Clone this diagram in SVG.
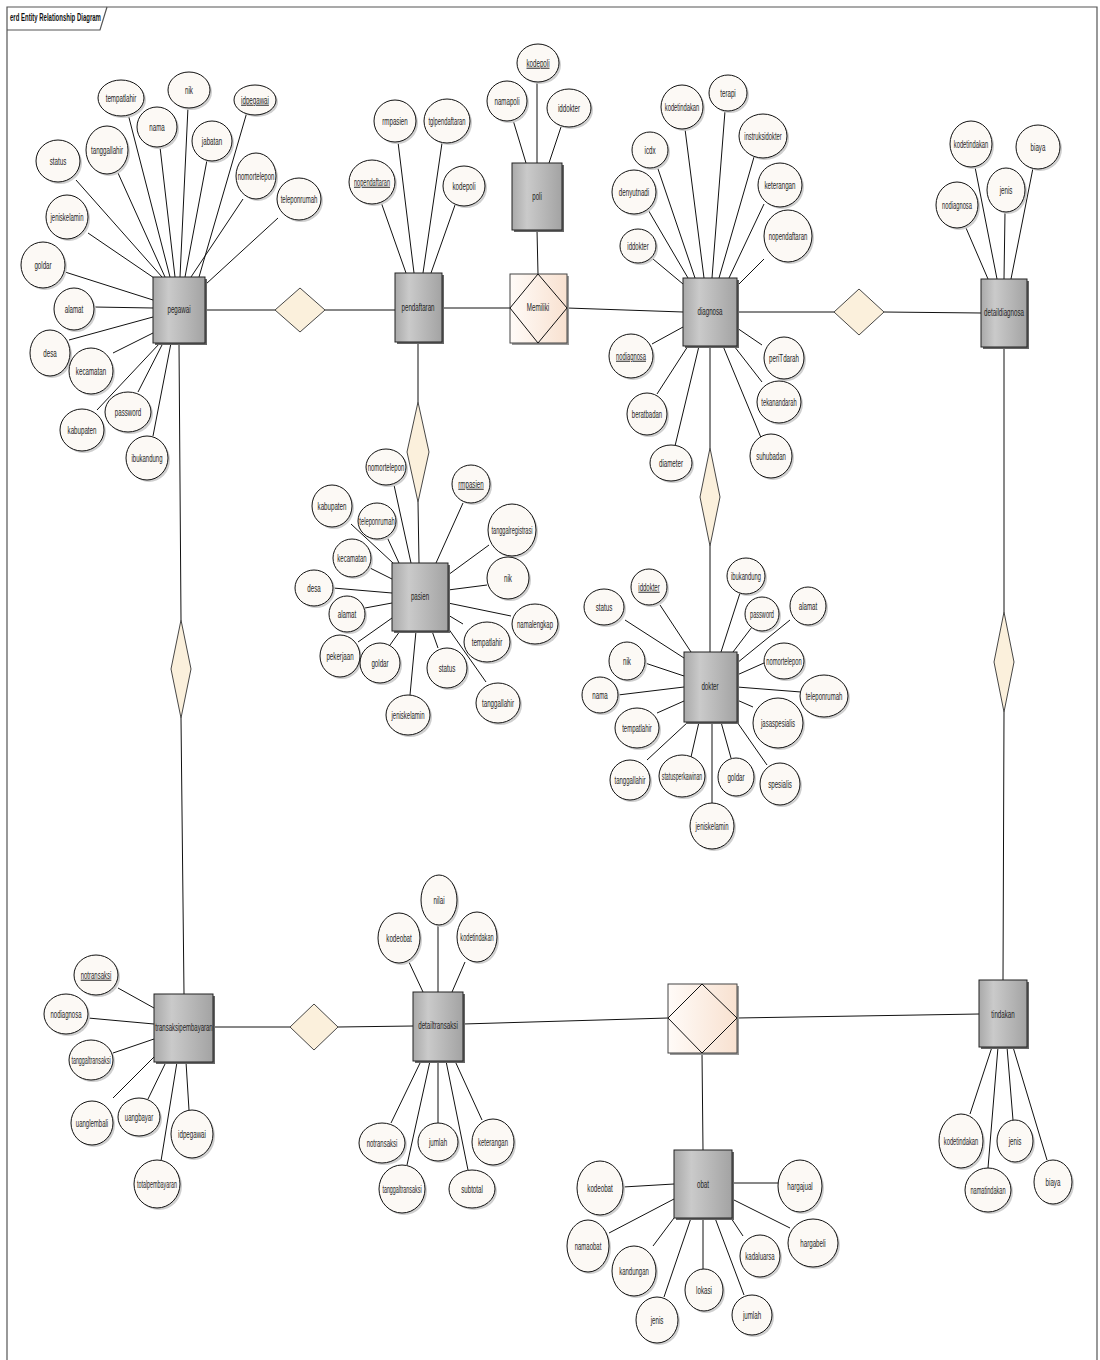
<svg xmlns="http://www.w3.org/2000/svg" width="1100" height="1360" viewBox="0 0 1100 1360">
<style>
.frame{fill:none;stroke:#555;stroke-width:1.2}
.ent rect.b{fill:url(#eg);stroke:#222;stroke-width:1}
.ent rect.s{fill:#666}
.attr ellipse.e{fill:#fcf9f5;stroke:#111;stroke-width:1}
.attr ellipse.s{fill:#cfcfcf}
.rel polygon{fill:#fbf0dc;stroke:#333;stroke-width:0.9}
.relbox rect.b{fill:url(#rg);stroke:#444;stroke-width:1}
.relbox rect.s{fill:#999}
.relbox polygon{fill:none;stroke:#111;stroke-width:1}
#connectors line{stroke:#111;stroke-width:1}
text{font-family:"Liberation Sans",Arial,sans-serif;font-size:10px;fill:#222;text-anchor:middle}
text.u{text-decoration:underline}
text.title{font-weight:bold;text-anchor:start;fill:#111}
</style>
<defs>
<linearGradient id="eg" x1="0" y1="0" x2="1" y2="0">
<stop offset="0" stop-color="#a9a9a9"/><stop offset="0.3" stop-color="#cacaca"/><stop offset="1" stop-color="#a3a3a3"/>
</linearGradient>
<linearGradient id="rg" x1="0" y1="0" x2="1" y2="0">
<stop offset="0" stop-color="#fffbf8"/><stop offset="1" stop-color="#f8e1d0"/>
</linearGradient>
</defs>
<rect width="1100" height="1360" fill="#fff"/>
<g id="frame">
<path class="frame" d="M7,1360 V7 H1097 V1360"/>
<path class="frame" d="M7,30 H100 L107,7"/>
<text class="title" transform="translate(10,21) scale(0.6,1)">erd Entity Relationship Diagram</text>
</g>
<g id="connectors">
<line x1="205" y1="310" x2="275" y2="310"/><line x1="325" y1="310" x2="395" y2="310"/>
<line x1="442" y1="308" x2="510" y2="308"/>
<line x1="567" y1="308" x2="683" y2="312"/>
<line x1="537" y1="230" x2="538" y2="274"/>
<line x1="737" y1="312" x2="834" y2="312"/><line x1="884" y1="312" x2="981" y2="313"/>
<line x1="418" y1="342" x2="418" y2="402"/><line x1="418" y1="502" x2="419" y2="563"/>
<line x1="710" y1="346" x2="710" y2="448"/><line x1="710" y1="546" x2="710" y2="652"/>
<line x1="179" y1="343" x2="181" y2="620"/><line x1="181" y1="718" x2="184" y2="994"/>
<line x1="1004" y1="347" x2="1004" y2="612"/><line x1="1004" y1="712" x2="1003" y2="980"/>
<line x1="213" y1="1027" x2="290" y2="1027"/><line x1="338" y1="1027" x2="413" y2="1026"/>
<line x1="463" y1="1024" x2="668" y2="1018"/>
<line x1="979" y1="1014" x2="737" y2="1018"/>
<line x1="702" y1="1053" x2="703" y2="1150"/>
<!-- pegawai -->
<line x1="126" y1="106" x2="170" y2="277"/><line x1="188" y1="107" x2="180" y2="277"/><line x1="247" y1="112" x2="199" y2="277"/>
<line x1="160" y1="147" x2="175" y2="277"/><line x1="207" y1="160" x2="185" y2="277"/><line x1="118" y1="173" x2="165" y2="277"/>
<line x1="76" y1="180" x2="162" y2="277"/><line x1="243" y1="199" x2="191" y2="277"/><line x1="278" y1="218" x2="206" y2="284"/>
<line x1="88" y1="233" x2="157" y2="280"/><line x1="65" y1="272" x2="153" y2="300"/><line x1="94" y1="307" x2="153" y2="308"/>
<line x1="69" y1="340" x2="153" y2="317"/><line x1="113" y1="353" x2="155" y2="332"/><line x1="97" y1="410" x2="160" y2="343"/>
<line x1="138" y1="392" x2="163" y2="343"/><line x1="153" y1="436" x2="171" y2="343"/>
<!-- pendaftaran -->
<line x1="398" y1="142" x2="414" y2="273"/><line x1="442" y1="143" x2="423" y2="273"/><line x1="381" y1="202" x2="406" y2="273"/><line x1="455" y1="205" x2="431" y2="273"/>
<!-- poli -->
<line x1="537" y1="82" x2="537" y2="163"/><line x1="513" y1="120" x2="526" y2="163"/><line x1="561" y1="127" x2="549" y2="163"/>
<!-- diagnosa -->
<line x1="725" y1="111" x2="712" y2="278"/><line x1="685" y1="129" x2="704" y2="278"/><line x1="754" y1="157" x2="719" y2="278"/>
<line x1="657" y1="166" x2="695" y2="278"/><line x1="647" y1="208" x2="688" y2="278"/><line x1="764" y1="204" x2="729" y2="278"/>
<line x1="653" y1="259" x2="683" y2="284"/><line x1="764" y1="259" x2="737" y2="286"/><line x1="652" y1="344" x2="683" y2="327"/>
<line x1="762" y1="345" x2="737" y2="328"/><line x1="657" y1="394" x2="688" y2="346"/><line x1="762" y1="382" x2="734" y2="346"/>
<line x1="675" y1="446" x2="699" y2="346"/><line x1="762" y1="440" x2="723" y2="346"/>
<!-- detaildiagnosa -->
<line x1="975" y1="167" x2="997" y2="279"/><line x1="1033" y1="168" x2="1011" y2="279"/><line x1="1005" y1="212" x2="1004" y2="279"/><line x1="966" y1="228" x2="988" y2="279"/>
<!-- pasien -->
<line x1="394" y1="485" x2="411" y2="563"/><line x1="463" y1="503" x2="436" y2="563"/><line x1="351" y1="524" x2="393" y2="563"/>
<line x1="387" y1="537" x2="399" y2="563"/><line x1="489" y1="545" x2="448" y2="575"/><line x1="368" y1="567" x2="392" y2="579"/>
<line x1="487" y1="585" x2="448" y2="590"/><line x1="333" y1="588" x2="392" y2="593"/><line x1="365" y1="608" x2="392" y2="603"/>
<line x1="511" y1="616" x2="448" y2="603"/><line x1="463" y1="624" x2="448" y2="615"/><line x1="358" y1="642" x2="392" y2="618"/>
<line x1="390" y1="645" x2="400" y2="631"/><line x1="438" y1="648" x2="432" y2="631"/><line x1="486" y1="682" x2="448" y2="628"/>
<line x1="410" y1="695" x2="416" y2="631"/>
<!-- dokter -->
<line x1="660" y1="605" x2="691" y2="652"/><line x1="740" y1="593" x2="721" y2="652"/><line x1="625" y1="620" x2="684" y2="658"/>
<line x1="752" y1="627" x2="733" y2="652"/><line x1="790" y1="620" x2="737" y2="663"/><line x1="645" y1="663" x2="684" y2="676"/>
<line x1="764" y1="663" x2="737" y2="675"/><line x1="618" y1="695" x2="684" y2="687"/><line x1="801" y1="692" x2="737" y2="687"/>
<line x1="657" y1="713" x2="684" y2="701"/><line x1="753" y1="707" x2="737" y2="700"/><line x1="647" y1="760" x2="688" y2="722"/>
<line x1="691" y1="757" x2="699" y2="722"/><line x1="731" y1="758" x2="721" y2="722"/><line x1="767" y1="765" x2="737" y2="722"/>
<line x1="712" y1="803" x2="712" y2="722"/>
<!-- transaksipembayaran -->
<line x1="118" y1="988" x2="154" y2="1008"/><line x1="88" y1="1018" x2="154" y2="1024"/><line x1="113" y1="1053" x2="154" y2="1039"/>
<line x1="113" y1="1098" x2="154" y2="1057"/><line x1="148" y1="1099" x2="166" y2="1062"/><line x1="189" y1="1110" x2="186" y2="1062"/>
<line x1="161" y1="1161" x2="177" y2="1062"/>
<!-- detailtransaksi -->
<line x1="438" y1="925" x2="438" y2="992"/><line x1="408" y1="960" x2="423" y2="992"/><line x1="465" y1="962" x2="452" y2="992"/>
<line x1="391" y1="1123" x2="421" y2="1061"/><line x1="438" y1="1123" x2="438" y2="1061"/><line x1="482" y1="1120" x2="455" y2="1061"/>
<line x1="407" y1="1165" x2="430" y2="1061"/><line x1="468" y1="1170" x2="446" y2="1061"/>
<!-- obat -->
<line x1="623" y1="1187" x2="674" y2="1184"/><line x1="778" y1="1183" x2="732" y2="1183"/><line x1="609" y1="1233" x2="674" y2="1199"/>
<line x1="790" y1="1228" x2="732" y2="1199"/><line x1="653" y1="1246" x2="674" y2="1218"/><line x1="743" y1="1236" x2="731" y2="1218"/>
<line x1="703" y1="1269" x2="703" y2="1218"/><line x1="664" y1="1297" x2="691" y2="1218"/><line x1="744" y1="1295" x2="715" y2="1218"/>
<!-- tindakan -->
<line x1="970" y1="1114" x2="992" y2="1047"/><line x1="1013" y1="1120" x2="1007" y2="1047"/><line x1="988" y1="1168" x2="998" y2="1047"/><line x1="1047" y1="1160" x2="1013" y2="1047"/>
</g>
<g id="relationships">
<g id="r-pegawai-pendaftaran" class="rel"><polygon points="275,310 300,288 325,310 300,332"/></g>
<g id="r-diagnosa-detaildiagnosa" class="rel"><polygon points="834,312 859,289 884,312 859,335"/></g>
<g id="r-pendaftaran-pasien" class="rel"><polygon points="418,402 429,452 418,502 407,452"/></g>
<g id="r-diagnosa-dokter" class="rel"><polygon points="710,448 720,497 710,546 700,497"/></g>
<g id="r-pegawai-transaksi" class="rel"><polygon points="181,620 191,669 181,718 171,669"/></g>
<g id="r-detaildiagnosa-tindakan" class="rel"><polygon points="1004,612 1014,662 1004,712 994,662"/></g>
<g id="r-transaksi-detail" class="rel"><polygon points="290,1027 314,1004 338,1027 314,1050"/></g>
<g id="r-memiliki" class="relbox"><rect class="s" x="512" y="276" width="57" height="69"/><rect class="b" x="510" y="274" width="57" height="69"/><polygon points="510,308 538,274 567,308 538,343"/><text transform="translate(538,311) scale(0.62,1)">Memiliki</text></g>
<g id="r-detail-obat-tindakan" class="relbox"><rect class="s" x="670" y="986" width="69" height="69"/><rect class="b" x="668" y="984" width="69" height="69"/><polygon points="668,1018 702,984 737,1018 702,1053"/></g>
</g>
<g id="entities">
<g id="e-pegawai" class="ent"><rect class="s" x="155" y="279" width="52" height="66"/><rect class="b" x="153" y="277" width="52" height="66"/><text transform="translate(179,313) scale(0.62,1)">pegawai</text></g>
<g id="e-pendaftaran" class="ent"><rect class="s" x="397" y="275" width="47" height="69"/><rect class="b" x="395" y="273" width="47" height="69"/><text transform="translate(418,311) scale(0.62,1)">pendaftaran</text></g>
<g id="e-poli" class="ent"><rect class="s" x="514" y="165" width="50" height="67"/><rect class="b" x="512" y="163" width="50" height="67"/><text transform="translate(537,200) scale(0.62,1)">poli</text></g>
<g id="e-diagnosa" class="ent"><rect class="s" x="685" y="280" width="54" height="68"/><rect class="b" x="683" y="278" width="54" height="68"/><text transform="translate(710,315) scale(0.62,1)">diagnosa</text></g>
<g id="e-detaildiagnosa" class="ent"><rect class="s" x="983" y="281" width="46" height="68"/><rect class="b" x="981" y="279" width="46" height="68"/><text transform="translate(1004,316) scale(0.62,1)">detaildiagnosa</text></g>
<g id="e-pasien" class="ent"><rect class="s" x="394" y="565" width="56" height="68"/><rect class="b" x="392" y="563" width="56" height="68"/><text transform="translate(420,600) scale(0.62,1)">pasien</text></g>
<g id="e-dokter" class="ent"><rect class="s" x="686" y="654" width="53" height="70"/><rect class="b" x="684" y="652" width="53" height="70"/><text transform="translate(710,690) scale(0.62,1)">dokter</text></g>
<g id="e-transaksipembayaran" class="ent"><rect class="s" x="156" y="996" width="59" height="68"/><rect class="b" x="154" y="994" width="59" height="68"/><text transform="translate(184,1031) scale(0.6,1)">transaksipembayaran</text></g>
<g id="e-detailtransaksi" class="ent"><rect class="s" x="415" y="994" width="50" height="69"/><rect class="b" x="413" y="992" width="50" height="69"/><text transform="translate(438,1029) scale(0.62,1)">detailtransaksi</text></g>
<g id="e-obat" class="ent"><rect class="s" x="676" y="1152" width="58" height="68"/><rect class="b" x="674" y="1150" width="58" height="68"/><text transform="translate(703,1188) scale(0.62,1)">obat</text></g>
<g id="e-tindakan" class="ent"><rect class="s" x="981" y="982" width="48" height="67"/><rect class="b" x="979" y="980" width="48" height="67"/><text transform="translate(1003,1018) scale(0.62,1)">tindakan</text></g>
</g>
<g id="attributes">
<g id="a-pegawai-tempatlahir" class="attr"><ellipse class="s" cx="123" cy="100" rx="23" ry="18"/><ellipse class="e" cx="121" cy="98" rx="23" ry="18"/><text transform="translate(121,101.5) scale(0.62,1)">tempatlahir</text></g>
<g id="a-pegawai-nik" class="attr"><ellipse class="s" cx="191" cy="92" rx="21" ry="18"/><ellipse class="e" cx="189" cy="90" rx="21" ry="18"/><text transform="translate(189,93.5) scale(0.62,1)">nik</text></g>
<g id="a-pegawai-idpegawai" class="attr"><ellipse class="s" cx="257" cy="102" rx="21" ry="15"/><ellipse class="e" cx="255" cy="100" rx="21" ry="15"/><text class="u" transform="translate(255,103.5) scale(0.62,1)">idpegawai</text></g>
<g id="a-pegawai-nama" class="attr"><ellipse class="s" cx="159" cy="129" rx="20" ry="20"/><ellipse class="e" cx="157" cy="127" rx="20" ry="20"/><text transform="translate(157,130.5) scale(0.62,1)">nama</text></g>
<g id="a-pegawai-jabatan" class="attr"><ellipse class="s" cx="214" cy="143" rx="20" ry="20"/><ellipse class="e" cx="212" cy="141" rx="20" ry="20"/><text transform="translate(212,144.5) scale(0.62,1)">jabatan</text></g>
<g id="a-pegawai-tanggallahir" class="attr"><ellipse class="s" cx="109" cy="152" rx="21" ry="24"/><ellipse class="e" cx="107" cy="150" rx="21" ry="24"/><text transform="translate(107,153.5) scale(0.62,1)">tanggallahir</text></g>
<g id="a-pegawai-status" class="attr"><ellipse class="s" cx="60" cy="163" rx="22" ry="21"/><ellipse class="e" cx="58" cy="161" rx="22" ry="21"/><text transform="translate(58,164.5) scale(0.62,1)">status</text></g>
<g id="a-pegawai-nomortelepon" class="attr"><ellipse class="s" cx="258" cy="178" rx="20" ry="23"/><ellipse class="e" cx="256" cy="176" rx="20" ry="23"/><text transform="translate(256,179.5) scale(0.6,1)">nomortelepon</text></g>
<g id="a-pegawai-teleponrumah" class="attr"><ellipse class="s" cx="301" cy="201" rx="22" ry="21"/><ellipse class="e" cx="299" cy="199" rx="22" ry="21"/><text transform="translate(299,202.5) scale(0.6,1)">teleponrumah</text></g>
<g id="a-pegawai-jeniskelamin" class="attr"><ellipse class="s" cx="69" cy="219" rx="21" ry="22"/><ellipse class="e" cx="67" cy="217" rx="21" ry="22"/><text transform="translate(67,220.5) scale(0.6,1)">jeniskelamin</text></g>
<g id="a-pegawai-goldar" class="attr"><ellipse class="s" cx="45" cy="267" rx="22" ry="23"/><ellipse class="e" cx="43" cy="265" rx="22" ry="23"/><text transform="translate(43,268.5) scale(0.62,1)">goldar</text></g>
<g id="a-pegawai-alamat" class="attr"><ellipse class="s" cx="76" cy="311" rx="20" ry="21"/><ellipse class="e" cx="74" cy="309" rx="20" ry="21"/><text transform="translate(74,312.5) scale(0.62,1)">alamat</text></g>
<g id="a-pegawai-desa" class="attr"><ellipse class="s" cx="52" cy="355" rx="20" ry="23"/><ellipse class="e" cx="50" cy="353" rx="20" ry="23"/><text transform="translate(50,356.5) scale(0.62,1)">desa</text></g>
<g id="a-pegawai-kecamatan" class="attr"><ellipse class="s" cx="93" cy="373" rx="22" ry="23"/><ellipse class="e" cx="91" cy="371" rx="22" ry="23"/><text transform="translate(91,374.5) scale(0.62,1)">kecamatan</text></g>
<g id="a-pegawai-kabupaten" class="attr"><ellipse class="s" cx="84" cy="432" rx="22" ry="21"/><ellipse class="e" cx="82" cy="430" rx="22" ry="21"/><text transform="translate(82,433.5) scale(0.62,1)">kabupaten</text></g>
<g id="a-pegawai-password" class="attr"><ellipse class="s" cx="130" cy="414" rx="23" ry="20"/><ellipse class="e" cx="128" cy="412" rx="23" ry="20"/><text transform="translate(128,415.5) scale(0.62,1)">password</text></g>
<g id="a-pegawai-ibukandung" class="attr"><ellipse class="s" cx="149" cy="460" rx="21" ry="22"/><ellipse class="e" cx="147" cy="458" rx="21" ry="22"/><text transform="translate(147,461.5) scale(0.6,1)">ibukandung</text></g>

<g id="a-pendaftaran-rmpasien" class="attr"><ellipse class="s" cx="397" cy="123" rx="21" ry="21"/><ellipse class="e" cx="395" cy="121" rx="21" ry="21"/><text transform="translate(395,124.5) scale(0.62,1)">rmpasien</text></g>
<g id="a-pendaftaran-tglpendaftaran" class="attr"><ellipse class="s" cx="449" cy="123" rx="23" ry="22"/><ellipse class="e" cx="447" cy="121" rx="23" ry="22"/><text transform="translate(447,124.5) scale(0.58,1)">tglpendaftaran</text></g>
<g id="a-pendaftaran-nopendaftaran" class="attr"><ellipse class="s" cx="374" cy="184" rx="23" ry="22"/><ellipse class="e" cx="372" cy="182" rx="23" ry="22"/><text class="u" transform="translate(372,185.5) scale(0.56,1)">nopendaftaran</text></g>
<g id="a-pendaftaran-kodepoli" class="attr"><ellipse class="s" cx="466" cy="188" rx="21" ry="20"/><ellipse class="e" cx="464" cy="186" rx="21" ry="20"/><text transform="translate(464,189.5) scale(0.62,1)">kodepoli</text></g>

<g id="a-poli-kodepoli" class="attr"><ellipse class="s" cx="540" cy="65" rx="21" ry="19"/><ellipse class="e" cx="538" cy="63" rx="21" ry="19"/><text class="u" transform="translate(538,66.5) scale(0.62,1)">kodepoli</text></g>
<g id="a-poli-namapoli" class="attr"><ellipse class="s" cx="509" cy="103" rx="20" ry="20"/><ellipse class="e" cx="507" cy="101" rx="20" ry="20"/><text transform="translate(507,104.5) scale(0.62,1)">namapoli</text></g>
<g id="a-poli-iddokter" class="attr"><ellipse class="s" cx="571" cy="110" rx="22" ry="19"/><ellipse class="e" cx="569" cy="108" rx="22" ry="19"/><text transform="translate(569,111.5) scale(0.62,1)">iddokter</text></g>

<g id="a-diagnosa-terapi" class="attr"><ellipse class="s" cx="730" cy="95" rx="19" ry="18"/><ellipse class="e" cx="728" cy="93" rx="19" ry="18"/><text transform="translate(728,96.5) scale(0.62,1)">terapi</text></g>
<g id="a-diagnosa-kodetindakan" class="attr"><ellipse class="s" cx="684" cy="109" rx="21" ry="22"/><ellipse class="e" cx="682" cy="107" rx="21" ry="22"/><text transform="translate(682,110.5) scale(0.58,1)">kodetindakan</text></g>
<g id="a-diagnosa-instruksidokter" class="attr"><ellipse class="s" cx="765" cy="138" rx="24" ry="22"/><ellipse class="e" cx="763" cy="136" rx="24" ry="22"/><text transform="translate(763,139.5) scale(0.58,1)">instruksidokter</text></g>
<g id="a-diagnosa-icdx" class="attr"><ellipse class="s" cx="652" cy="152" rx="18" ry="18"/><ellipse class="e" cx="650" cy="150" rx="18" ry="18"/><text transform="translate(650,153.5) scale(0.62,1)">icdx</text></g>
<g id="a-diagnosa-denyutnadi" class="attr"><ellipse class="s" cx="636" cy="194" rx="22" ry="22"/><ellipse class="e" cx="634" cy="192" rx="22" ry="22"/><text transform="translate(634,195.5) scale(0.62,1)">denyutnadi</text></g>
<g id="a-diagnosa-keterangan" class="attr"><ellipse class="s" cx="782" cy="187" rx="22" ry="22"/><ellipse class="e" cx="780" cy="185" rx="22" ry="22"/><text transform="translate(780,188.5) scale(0.62,1)">keterangan</text></g>
<g id="a-diagnosa-iddokter" class="attr"><ellipse class="s" cx="640" cy="248" rx="18" ry="17"/><ellipse class="e" cx="638" cy="246" rx="18" ry="17"/><text transform="translate(638,249.5) scale(0.6,1)">iddokter</text></g>
<g id="a-diagnosa-nopendaftaran" class="attr"><ellipse class="s" cx="790" cy="238" rx="24" ry="26"/><ellipse class="e" cx="788" cy="236" rx="24" ry="26"/><text transform="translate(788,239.5) scale(0.6,1)">nopendaftaran</text></g>
<g id="a-diagnosa-nodiagnosa" class="attr"><ellipse class="s" cx="633" cy="358" rx="22" ry="22"/><ellipse class="e" cx="631" cy="356" rx="22" ry="22"/><text class="u" transform="translate(631,359.5) scale(0.58,1)">nodiagnosa</text></g>
<g id="a-diagnosa-periTdarah" class="attr"><ellipse class="s" cx="786" cy="360" rx="20" ry="21"/><ellipse class="e" cx="784" cy="358" rx="20" ry="21"/><text transform="translate(784,361.5) scale(0.62,1)">periTdarah</text></g>
<g id="a-diagnosa-beratbadan" class="attr"><ellipse class="s" cx="649" cy="416" rx="20" ry="21"/><ellipse class="e" cx="647" cy="414" rx="20" ry="21"/><text transform="translate(647,417.5) scale(0.6,1)">beratbadan</text></g>
<g id="a-diagnosa-tekanandarah" class="attr"><ellipse class="s" cx="781" cy="404" rx="22" ry="21"/><ellipse class="e" cx="779" cy="402" rx="22" ry="21"/><text transform="translate(779,405.5) scale(0.58,1)">tekanandarah</text></g>
<g id="a-diagnosa-diameter" class="attr"><ellipse class="s" cx="673" cy="465" rx="21" ry="18"/><ellipse class="e" cx="671" cy="463" rx="21" ry="18"/><text transform="translate(671,466.5) scale(0.62,1)">diameter</text></g>
<g id="a-diagnosa-suhubadan" class="attr"><ellipse class="s" cx="773" cy="458" rx="21" ry="22"/><ellipse class="e" cx="771" cy="456" rx="21" ry="22"/><text transform="translate(771,459.5) scale(0.6,1)">suhubadan</text></g>

<g id="a-detaildiagnosa-kodetindakan" class="attr"><ellipse class="s" cx="973" cy="146" rx="21" ry="23"/><ellipse class="e" cx="971" cy="144" rx="21" ry="23"/><text transform="translate(971,147.5) scale(0.58,1)">kodetindakan</text></g>
<g id="a-detaildiagnosa-biaya" class="attr"><ellipse class="s" cx="1040" cy="149" rx="22" ry="22"/><ellipse class="e" cx="1038" cy="147" rx="22" ry="22"/><text transform="translate(1038,150.5) scale(0.62,1)">biaya</text></g>
<g id="a-detaildiagnosa-jenis" class="attr"><ellipse class="s" cx="1008" cy="192" rx="19" ry="22"/><ellipse class="e" cx="1006" cy="190" rx="19" ry="22"/><text transform="translate(1006,193.5) scale(0.62,1)">jenis</text></g>
<g id="a-detaildiagnosa-nodiagnosa" class="attr"><ellipse class="s" cx="959" cy="207" rx="21" ry="23"/><ellipse class="e" cx="957" cy="205" rx="21" ry="23"/><text transform="translate(957,208.5) scale(0.58,1)">nodiagnosa</text></g>

<g id="a-pasien-nomortelepon" class="attr"><ellipse class="s" cx="388" cy="469" rx="20" ry="18"/><ellipse class="e" cx="386" cy="467" rx="20" ry="18"/><text transform="translate(386,470.5) scale(0.6,1)">nomortelepon</text></g>
<g id="a-pasien-rmpasien" class="attr"><ellipse class="s" cx="473" cy="486" rx="19" ry="19"/><ellipse class="e" cx="471" cy="484" rx="19" ry="19"/><text class="u" transform="translate(471,487.5) scale(0.62,1)">rmpasien</text></g>
<g id="a-pasien-kabupaten" class="attr"><ellipse class="s" cx="334" cy="508" rx="20" ry="21"/><ellipse class="e" cx="332" cy="506" rx="20" ry="21"/><text transform="translate(332,509.5) scale(0.62,1)">kabupaten</text></g>
<g id="a-pasien-teleponrumah" class="attr"><ellipse class="s" cx="379" cy="523" rx="19" ry="18"/><ellipse class="e" cx="377" cy="521" rx="19" ry="18"/><text transform="translate(377,524.5) scale(0.58,1)">teleponrumah</text></g>
<g id="a-pasien-tanggalregistrasi" class="attr"><ellipse class="s" cx="514" cy="532" rx="24" ry="26"/><ellipse class="e" cx="512" cy="530" rx="24" ry="26"/><text transform="translate(512,533.5) scale(0.56,1)">tanggalregistrasi</text></g>
<g id="a-pasien-kecamatan" class="attr"><ellipse class="s" cx="354" cy="560" rx="19" ry="19"/><ellipse class="e" cx="352" cy="558" rx="19" ry="19"/><text transform="translate(352,561.5) scale(0.6,1)">kecamatan</text></g>
<g id="a-pasien-nik" class="attr"><ellipse class="s" cx="510" cy="580" rx="21" ry="21"/><ellipse class="e" cx="508" cy="578" rx="21" ry="21"/><text transform="translate(508,581.5) scale(0.62,1)">nik</text></g>
<g id="a-pasien-desa" class="attr"><ellipse class="s" cx="316" cy="590" rx="19" ry="18"/><ellipse class="e" cx="314" cy="588" rx="19" ry="18"/><text transform="translate(314,591.5) scale(0.62,1)">desa</text></g>
<g id="a-pasien-alamat" class="attr"><ellipse class="s" cx="349" cy="616" rx="18" ry="18"/><ellipse class="e" cx="347" cy="614" rx="18" ry="18"/><text transform="translate(347,617.5) scale(0.62,1)">alamat</text></g>
<g id="a-pasien-namalengkap" class="attr"><ellipse class="s" cx="537" cy="626" rx="23" ry="20"/><ellipse class="e" cx="535" cy="624" rx="23" ry="20"/><text transform="translate(535,627.5) scale(0.6,1)">namalengkap</text></g>
<g id="a-pasien-tempatlahir" class="attr"><ellipse class="s" cx="489" cy="644" rx="23" ry="20"/><ellipse class="e" cx="487" cy="642" rx="23" ry="20"/><text transform="translate(487,645.5) scale(0.62,1)">tempatlahir</text></g>
<g id="a-pasien-pekerjaan" class="attr"><ellipse class="s" cx="342" cy="658" rx="20" ry="21"/><ellipse class="e" cx="340" cy="656" rx="20" ry="21"/><text transform="translate(340,659.5) scale(0.62,1)">pekerjaan</text></g>
<g id="a-pasien-goldar" class="attr"><ellipse class="s" cx="382" cy="665" rx="20" ry="20"/><ellipse class="e" cx="380" cy="663" rx="20" ry="20"/><text transform="translate(380,666.5) scale(0.62,1)">goldar</text></g>
<g id="a-pasien-status" class="attr"><ellipse class="s" cx="449" cy="670" rx="20" ry="20"/><ellipse class="e" cx="447" cy="668" rx="20" ry="20"/><text transform="translate(447,671.5) scale(0.62,1)">status</text></g>
<g id="a-pasien-tanggallahir" class="attr"><ellipse class="s" cx="500" cy="705" rx="22" ry="20"/><ellipse class="e" cx="498" cy="703" rx="22" ry="20"/><text transform="translate(498,706.5) scale(0.62,1)">tanggallahir</text></g>
<g id="a-pasien-jeniskelamin" class="attr"><ellipse class="s" cx="410" cy="717" rx="22" ry="20"/><ellipse class="e" cx="408" cy="715" rx="22" ry="20"/><text transform="translate(408,718.5) scale(0.6,1)">jeniskelamin</text></g>

<g id="a-dokter-iddokter" class="attr"><ellipse class="s" cx="651" cy="589" rx="18" ry="18"/><ellipse class="e" cx="649" cy="587" rx="18" ry="18"/><text class="u" transform="translate(649,590.5) scale(0.6,1)">iddokter</text></g>
<g id="a-dokter-ibukandung" class="attr"><ellipse class="s" cx="748" cy="578" rx="19" ry="18"/><ellipse class="e" cx="746" cy="576" rx="19" ry="18"/><text transform="translate(746,579.5) scale(0.58,1)">ibukandung</text></g>
<g id="a-dokter-status" class="attr"><ellipse class="s" cx="606" cy="609" rx="20" ry="18"/><ellipse class="e" cx="604" cy="607" rx="20" ry="18"/><text transform="translate(604,610.5) scale(0.62,1)">status</text></g>
<g id="a-dokter-password" class="attr"><ellipse class="s" cx="764" cy="616" rx="17" ry="17"/><ellipse class="e" cx="762" cy="614" rx="17" ry="17"/><text transform="translate(762,617.5) scale(0.56,1)">password</text></g>
<g id="a-dokter-alamat" class="attr"><ellipse class="s" cx="810" cy="608" rx="18" ry="19"/><ellipse class="e" cx="808" cy="606" rx="18" ry="19"/><text transform="translate(808,609.5) scale(0.62,1)">alamat</text></g>
<g id="a-dokter-nik" class="attr"><ellipse class="s" cx="629" cy="663" rx="18" ry="19"/><ellipse class="e" cx="627" cy="661" rx="18" ry="19"/><text transform="translate(627,664.5) scale(0.62,1)">nik</text></g>
<g id="a-dokter-nomortelepon" class="attr"><ellipse class="s" cx="786" cy="663" rx="20" ry="18"/><ellipse class="e" cx="784" cy="661" rx="20" ry="18"/><text transform="translate(784,664.5) scale(0.58,1)">nomortelepon</text></g>
<g id="a-dokter-nama" class="attr"><ellipse class="s" cx="602" cy="697" rx="18" ry="18"/><ellipse class="e" cx="600" cy="695" rx="18" ry="18"/><text transform="translate(600,698.5) scale(0.62,1)">nama</text></g>
<g id="a-dokter-teleponrumah" class="attr"><ellipse class="s" cx="826" cy="698" rx="24" ry="21"/><ellipse class="e" cx="824" cy="696" rx="24" ry="21"/><text transform="translate(824,699.5) scale(0.6,1)">teleponrumah</text></g>
<g id="a-dokter-tempatlahir" class="attr"><ellipse class="s" cx="639" cy="730" rx="22" ry="20"/><ellipse class="e" cx="637" cy="728" rx="22" ry="20"/><text transform="translate(637,731.5) scale(0.6,1)">tempatlahir</text></g>
<g id="a-dokter-jasaspesialis" class="attr"><ellipse class="s" cx="780" cy="725" rx="25" ry="25"/><ellipse class="e" cx="778" cy="723" rx="25" ry="25"/><text transform="translate(778,726.5) scale(0.6,1)">jasaspesialis</text></g>
<g id="a-dokter-tanggallahir" class="attr"><ellipse class="s" cx="632" cy="782" rx="20" ry="20"/><ellipse class="e" cx="630" cy="780" rx="20" ry="20"/><text transform="translate(630,783.5) scale(0.6,1)">tanggallahir</text></g>
<g id="a-dokter-statusperkawinan" class="attr"><ellipse class="s" cx="684" cy="778" rx="23" ry="21"/><ellipse class="e" cx="682" cy="776" rx="23" ry="21"/><text transform="translate(682,779.5) scale(0.52,1)">statusperkawinan</text></g>
<g id="a-dokter-goldar" class="attr"><ellipse class="s" cx="738" cy="779" rx="18" ry="19"/><ellipse class="e" cx="736" cy="777" rx="18" ry="19"/><text transform="translate(736,780.5) scale(0.62,1)">goldar</text></g>
<g id="a-dokter-spesialis" class="attr"><ellipse class="s" cx="782" cy="786" rx="20" ry="21"/><ellipse class="e" cx="780" cy="784" rx="20" ry="21"/><text transform="translate(780,787.5) scale(0.62,1)">spesialis</text></g>
<g id="a-dokter-jeniskelamin" class="attr"><ellipse class="s" cx="714" cy="828" rx="22" ry="23"/><ellipse class="e" cx="712" cy="826" rx="22" ry="23"/><text transform="translate(712,829.5) scale(0.6,1)">jeniskelamin</text></g>

<g id="a-transaksi-notransaksi" class="attr"><ellipse class="s" cx="98" cy="977" rx="22" ry="20"/><ellipse class="e" cx="96" cy="975" rx="22" ry="20"/><text class="u" transform="translate(96,978.5) scale(0.6,1)">notransaksi</text></g>
<g id="a-transaksi-nodiagnosa" class="attr"><ellipse class="s" cx="68" cy="1016" rx="22" ry="20"/><ellipse class="e" cx="66" cy="1014" rx="22" ry="20"/><text transform="translate(66,1017.5) scale(0.6,1)">nodiagnosa</text></g>
<g id="a-transaksi-tanggaltransaksi" class="attr"><ellipse class="s" cx="93" cy="1062" rx="22" ry="20"/><ellipse class="e" cx="91" cy="1060" rx="22" ry="20"/><text transform="translate(91,1063.5) scale(0.54,1)">tanggaltransaksi</text></g>
<g id="a-transaksi-uanglembali" class="attr"><ellipse class="s" cx="94" cy="1125" rx="21" ry="22"/><ellipse class="e" cx="92" cy="1123" rx="21" ry="22"/><text transform="translate(92,1126.5) scale(0.6,1)">uanglembali</text></g>
<g id="a-transaksi-uangbayar" class="attr"><ellipse class="s" cx="141" cy="1119" rx="21" ry="19"/><ellipse class="e" cx="139" cy="1117" rx="21" ry="19"/><text transform="translate(139,1120.5) scale(0.6,1)">uangbayar</text></g>
<g id="a-transaksi-idpegawai" class="attr"><ellipse class="s" cx="194" cy="1136" rx="21" ry="24"/><ellipse class="e" cx="192" cy="1134" rx="21" ry="24"/><text transform="translate(192,1137.5) scale(0.62,1)">idpegawai</text></g>
<g id="a-transaksi-totalpembayaran" class="attr"><ellipse class="s" cx="159" cy="1186" rx="23" ry="24"/><ellipse class="e" cx="157" cy="1184" rx="23" ry="24"/><text transform="translate(157,1187.5) scale(0.54,1)">totalpembayaran</text></g>

<g id="a-detailtransaksi-nilai" class="attr"><ellipse class="s" cx="441" cy="902" rx="18" ry="25"/><ellipse class="e" cx="439" cy="900" rx="18" ry="25"/><text transform="translate(439,903.5) scale(0.62,1)">nilai</text></g>
<g id="a-detailtransaksi-kodeobat" class="attr"><ellipse class="s" cx="401" cy="940" rx="21" ry="25"/><ellipse class="e" cx="399" cy="938" rx="21" ry="25"/><text transform="translate(399,941.5) scale(0.62,1)">kodeobat</text></g>
<g id="a-detailtransaksi-kodetindakan" class="attr"><ellipse class="s" cx="479" cy="939" rx="20" ry="25"/><ellipse class="e" cx="477" cy="937" rx="20" ry="25"/><text transform="translate(477,940.5) scale(0.56,1)">kodetindakan</text></g>
<g id="a-detailtransaksi-notransaksi" class="attr"><ellipse class="s" cx="384" cy="1145" rx="23" ry="20"/><ellipse class="e" cx="382" cy="1143" rx="23" ry="20"/><text transform="translate(382,1146.5) scale(0.6,1)">notransaksi</text></g>
<g id="a-detailtransaksi-jumlah" class="attr"><ellipse class="s" cx="440" cy="1144" rx="20" ry="19"/><ellipse class="e" cx="438" cy="1142" rx="20" ry="19"/><text transform="translate(438,1145.5) scale(0.62,1)">jumlah</text></g>
<g id="a-detailtransaksi-keterangan" class="attr"><ellipse class="s" cx="495" cy="1144" rx="21" ry="23"/><ellipse class="e" cx="493" cy="1142" rx="21" ry="23"/><text transform="translate(493,1145.5) scale(0.6,1)">keterangan</text></g>
<g id="a-detailtransaksi-tanggaltransaksi" class="attr"><ellipse class="s" cx="404" cy="1191" rx="23" ry="24"/><ellipse class="e" cx="402" cy="1189" rx="23" ry="24"/><text transform="translate(402,1192.5) scale(0.54,1)">tanggaltransaksi</text></g>
<g id="a-detailtransaksi-subtotal" class="attr"><ellipse class="s" cx="474" cy="1191" rx="23" ry="19"/><ellipse class="e" cx="472" cy="1189" rx="23" ry="19"/><text transform="translate(472,1192.5) scale(0.62,1)">subtotal</text></g>

<g id="a-obat-kodeobat" class="attr"><ellipse class="s" cx="602" cy="1190" rx="23" ry="27"/><ellipse class="e" cx="600" cy="1188" rx="23" ry="27"/><text transform="translate(600,1191.5) scale(0.62,1)">kodeobat</text></g>
<g id="a-obat-hargajual" class="attr"><ellipse class="s" cx="802" cy="1188" rx="22" ry="26"/><ellipse class="e" cx="800" cy="1186" rx="22" ry="26"/><text transform="translate(800,1189.5) scale(0.62,1)">hargajual</text></g>
<g id="a-obat-namaobat" class="attr"><ellipse class="s" cx="590" cy="1248" rx="21" ry="26"/><ellipse class="e" cx="588" cy="1246" rx="21" ry="26"/><text transform="translate(588,1249.5) scale(0.6,1)">namaobat</text></g>
<g id="a-obat-hargabeli" class="attr"><ellipse class="s" cx="815" cy="1245" rx="25" ry="24"/><ellipse class="e" cx="813" cy="1243" rx="25" ry="24"/><text transform="translate(813,1246.5) scale(0.62,1)">hargabeli</text></g>
<g id="a-obat-kandungan" class="attr"><ellipse class="s" cx="636" cy="1273" rx="22" ry="25"/><ellipse class="e" cx="634" cy="1271" rx="22" ry="25"/><text transform="translate(634,1274.5) scale(0.6,1)">kandungan</text></g>
<g id="a-obat-kadaluarsa" class="attr"><ellipse class="s" cx="762" cy="1258" rx="20" ry="21"/><ellipse class="e" cx="760" cy="1256" rx="20" ry="21"/><text transform="translate(760,1259.5) scale(0.6,1)">kadaluarsa</text></g>
<g id="a-obat-lokasi" class="attr"><ellipse class="s" cx="706" cy="1292" rx="19" ry="21"/><ellipse class="e" cx="704" cy="1290" rx="19" ry="21"/><text transform="translate(704,1293.5) scale(0.62,1)">lokasi</text></g>
<g id="a-obat-jenis" class="attr"><ellipse class="s" cx="659" cy="1322" rx="21" ry="23"/><ellipse class="e" cx="657" cy="1320" rx="21" ry="23"/><text transform="translate(657,1323.5) scale(0.62,1)">jenis</text></g>
<g id="a-obat-jumlah" class="attr"><ellipse class="s" cx="754" cy="1317" rx="20" ry="20"/><ellipse class="e" cx="752" cy="1315" rx="20" ry="20"/><text transform="translate(752,1318.5) scale(0.62,1)">jumlah</text></g>

<g id="a-tindakan-kodetindakan" class="attr"><ellipse class="s" cx="963" cy="1143" rx="22" ry="27"/><ellipse class="e" cx="961" cy="1141" rx="22" ry="27"/><text transform="translate(961,1144.5) scale(0.58,1)">kodetindakan</text></g>
<g id="a-tindakan-jenis" class="attr"><ellipse class="s" cx="1017" cy="1143" rx="18" ry="21"/><ellipse class="e" cx="1015" cy="1141" rx="18" ry="21"/><text transform="translate(1015,1144.5) scale(0.62,1)">jenis</text></g>
<g id="a-tindakan-namatindakan" class="attr"><ellipse class="s" cx="990" cy="1192" rx="23" ry="22"/><ellipse class="e" cx="988" cy="1190" rx="23" ry="22"/><text transform="translate(988,1193.5) scale(0.56,1)">namatindakan</text></g>
<g id="a-tindakan-biaya" class="attr"><ellipse class="s" cx="1055" cy="1184" rx="19" ry="22"/><ellipse class="e" cx="1053" cy="1182" rx="19" ry="22"/><text transform="translate(1053,1185.5) scale(0.62,1)">biaya</text></g>
</g>
</svg>
